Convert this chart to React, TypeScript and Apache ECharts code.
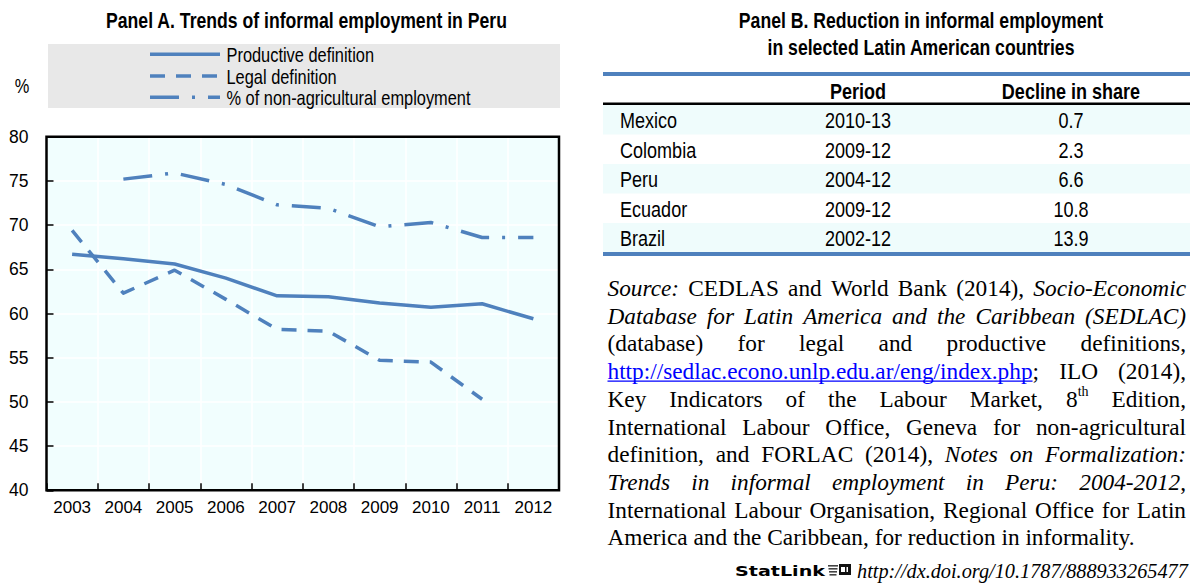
import React, { useEffect, useRef } from 'react';
import * as echarts from 'echarts';

// ---------- Data ----------
const years = ['2003', '2004', '2005', '2006', '2007', '2008', '2009', '2010', '2011', '2012'];
const productive = [66.7, 66.2, 65.6, 64.0, 62.0, 61.9, 61.2, 60.7, 61.1, 59.4];
const legal = [69.4, 62.3, 64.9, 61.6, 58.2, 58.0, 54.7, 54.5, 50.3, null];
const nonAgri = [null, 75.2, 75.9, 74.6, 72.3, 71.9, 69.8, 70.3, 68.6, 68.6];
const seriesNames = ['Productive definition', 'Legal definition', '% of non-agricultural employment'];
const yMin = 40;
const yMax = 80;
const yStep = 5;

const countries = ['Mexico', 'Colombia', 'Peru', 'Ecuador', 'Brazil'];
const periods = ['2010-13', '2009-12', '2004-12', '2009-12', '2002-12'];
const declines = ['0.7', '2.3', '6.6', '10.8', '13.9'];
const tableHeaders = ['Period', 'Decline in share'];

const titleA = 'Panel A. Trends of informal employment in Peru';
const titleB = ['Panel B. Reduction in informal employment', 'in selected Latin American countries'];
const unitLabel = '%';

const sourceLines = [
  '*Source:* CEDLAS and World Bank (2014), *Socio-Economic*',
  '*Database for Latin America and the Caribbean (SEDLAC)*',
  '(database) for legal and productive definitions,',
  '_http://sedlac.econo.unlp.edu.ar/eng/index.php_; ILO (2014),',
  'Key Indicators of the Labour Market, 8^th^ Edition,',
  'International Labour Office, Geneva for non-agricultural',
  'definition, and FORLAC (2014), *Notes on Formalization:*',
  '*Trends in informal employment in Peru: 2004-2012*,',
  'International Labour Organisation, Regional Office for Latin',
  'America and the Caribbean, for reduction in informality.',
];
const statLinkLabel = 'StatLink';
const statLinkUrl = 'http://dx.doi.org/10.1787/888933265477';

// ---------- Styles ----------
const BLUE = '#4f81bd';
const SANS = '"Liberation Sans", Arial, sans-serif';
const SERIF = '"Liberation Serif", "Times New Roman", serif';
const NARROW_SCALE = 0.82;
const LEGAL_DASH = [15, 11];
const DASHDOT = [29, 13, 3, 13];
const dashes: (number[] | null)[] = [null, LEGAL_DASH, DASHDOT];

let measureCtx: CanvasRenderingContext2D | null = null;
function measure(text: string, font: string): number {
  if (!measureCtx) measureCtx = document.createElement('canvas').getContext('2d');
  measureCtx!.font = font;
  return measureCtx!.measureText(text).width;
}

// narrow (condensed) text, drawn as a horizontally scaled sans font
function nText(x: number, y: number, text: string, size: number, align: string, bold = false): any {
  return {
    type: 'text',
    silent: true,
    x,
    y,
    scaleX: NARROW_SCALE,
    style: {
      text,
      font: `${bold ? 'bold ' : ''}${size}px ${SANS}`,
      fill: '#000',
      textAlign: align,
      textVerticalAlign: 'middle',
    },
  };
}

type Piece = { t: string; s: string };
function parseLine(src: string): Piece[][] {
  const pieces: Piece[] = [];
  let cur = '';
  let style = 'n';
  for (const ch of src) {
    if (ch === '*' || ch === '_' || ch === '^') {
      if (cur) pieces.push({ t: cur, s: style });
      cur = '';
      const m = ch === '*' ? 'i' : ch === '_' ? 'u' : 's';
      style = style === m ? 'n' : m;
    } else cur += ch;
  }
  if (cur) pieces.push({ t: cur, s: style });
  const tokens: Piece[][] = [[]];
  for (const p of pieces) {
    p.t.split(' ').forEach((part, k) => {
      if (k > 0) tokens.push([]);
      if (part) tokens[tokens.length - 1].push({ t: part, s: p.s });
    });
  }
  return tokens.filter((t) => t.length > 0);
}

const SRC_SIZE = 23.3;
function pieceFont(s: string) {
  if (s === 'i') return `italic ${SRC_SIZE}px ${SERIF}`;
  if (s === 's') return `${Math.round(SRC_SIZE * 0.6)}px ${SERIF}`;
  return `${SRC_SIZE}px ${SERIF}`;
}

function buildSource(): any[] {
  const els: any[] = [];
  const left = 607.5;
  const right = 1186;
  const W = right - left;
  const top = 288;
  const lh = 27.7;
  const spaceW = measure(' ', pieceFont('n'));
  sourceLines.forEach((line, i) => {
    const tokens = parseLine(line);
    const widths = tokens.map((tk) => tk.reduce((a, p) => a + measure(p.t, pieceFont(p.s)), 0));
    const sum = widths.reduce((a, b) => a + b, 0);
    const last = i === sourceLines.length - 1;
    const gap = last || tokens.length < 2 ? spaceW : (W - sum) / (tokens.length - 1);
    const y = top + i * lh;
    let x = left;
    tokens.forEach((tk, ti) => {
      let px = x;
      tk.forEach((p) => {
        const w = measure(p.t, pieceFont(p.s));
        els.push({
          type: 'text',
          x: px,
          y: p.s === 's' ? y - 7 : y,
          silent: true,
          style: {
            text: p.t,
            font: pieceFont(p.s),
            fill: p.s === 'u' ? '#0000ff' : '#000',
            textAlign: 'left',
            textVerticalAlign: 'middle',
          },
        });
        if (p.s === 'u') {
          els.push({
            type: 'line',
            silent: true,
            shape: { x1: px, y1: y + 10, x2: px + w, y2: y + 10 },
            style: { stroke: '#0000ff', lineWidth: 1.2 },
          });
        }
        px += w;
      });
      x += widths[ti] + gap;
    });
  });
  return els;
}

function buildLegend(): any[] {
  const els: any[] = [];
  els.push({
    type: 'rect',
    silent: true,
    shape: { x: 48, y: 44, width: 512, height: 64 },
    style: { fill: '#e8e8e8' },
    z: 0,
  });
  const rows = [54.3, 76, 97.3];
  seriesNames.forEach((name, i) => {
    els.push({
      type: 'line',
      silent: true,
      shape: { x1: 150, y1: rows[i], x2: 220, y2: rows[i] },
      style: { stroke: BLUE, lineWidth: 3.5, lineDash: dashes[i] || undefined },
      z: 1,
    });
    const t = nText(226.5, rows[i] + 1, name, 20, 'left');
    t.z = 1;
    els.push(t);
  });
  return els;
}

function buildTable(): any[] {
  const els: any[] = [];
  const x0 = 603;
  const x1 = 1190;
  const rowTop = 105;
  const rowH = 29.5;
  countries.forEach((c, i) => {
    if (i % 2 === 0) {
      els.push({
        type: 'rect',
        silent: true,
        shape: { x: x0, y: rowTop + i * rowH, width: x1 - x0, height: rowH },
        style: { fill: '#effcfc' },
      });
    }
    const cy = rowTop + i * rowH + rowH / 2 + 1;
    els.push(nText(620, cy, c, 22, 'left'));
    els.push(nText(858, cy, periods[i], 22, 'center'));
    els.push(nText(1071, cy, declines[i], 22, 'center'));
  });
  els.push({ type: 'line', silent: true, shape: { x1: x0, y1: 74, x2: x1, y2: 74 }, style: { stroke: BLUE, lineWidth: 4 } });
  els.push({ type: 'line', silent: true, shape: { x1: x0, y1: 103.7, x2: x1, y2: 103.7 }, style: { stroke: '#000', lineWidth: 2.5 } });
  els.push({ type: 'line', silent: true, shape: { x1: x0, y1: 254, x2: x1, y2: 254 }, style: { stroke: BLUE, lineWidth: 4 } });
  els.push(nText(858, 91, tableHeaders[0], 22, 'center', true));
  els.push(nText(1071, 91, tableHeaders[1], 22, 'center', true));
  return els;
}

function buildTitles(): any[] {
  return [
    nText(306.5, 20, titleA, 21.5, 'center', true),
    nText(921, 20, titleB[0], 21.5, 'center', true),
    nText(921, 47, titleB[1], 21.5, 'center', true),
    nText(22, 86, unitLabel, 20, 'center'),
  ];
}

function buildStatLink(): any[] {
  const els: any[] = [];
  const y = 571;
  const lf = `bold 14px "DejaVu Sans", sans-serif`;
  const lw = measure(statLinkLabel, lf);
  els.push({
    type: 'text', silent: true, x: 735, y, scaleX: 90 / lw,
    style: { text: statLinkLabel, font: lf, fill: '#000', textAlign: 'left', textVerticalAlign: 'middle' },
  });
  for (let k = 0; k < 4; k++) {
    els.push({ type: 'rect', silent: true, shape: { x: 828 + k * 0.5, y: 565 + k * 3, width: 10 - k, height: 1.6 }, style: { fill: '#444' } });
  }
  els.push({ type: 'rect', silent: true, shape: { x: 839, y: 564, width: 12, height: 11 }, style: { fill: '#111' } });
  els.push({ type: 'rect', silent: true, shape: { x: 841, y: 567, width: 4, height: 5 }, style: { fill: '#fff' } });
  els.push({ type: 'rect', silent: true, shape: { x: 846.5, y: 567, width: 1.5, height: 5 }, style: { fill: '#fff' } });
  const uf = `italic 20px ${SERIF}`;
  const uw = measure(statLinkUrl, uf);
  els.push({
    type: 'text', silent: true, x: 857, y, scaleX: 331 / uw,
    style: { text: statLinkUrl, font: uf, fill: '#000', textAlign: 'left', textVerticalAlign: 'middle' },
  });
  return els;
}

const PLOT = { left: 46.5, right: 559, top: 136.7, bottom: 490.3 };

export default function App() {
  const ref = useRef<HTMLDivElement>(null);
  useEffect(() => {
    if (!ref.current) return;
    const chart = echarts.init(ref.current, null, { renderer: 'svg' });
    const seriesData = [productive, legal, nonAgri];
    const option: any = {
      animation: false,
      backgroundColor: '#fff',
      grid: {
        left: PLOT.left,
        right: 1190 - PLOT.right,
        top: PLOT.top,
        bottom: 587 - PLOT.bottom,
        show: true,
        backgroundColor: '#f1fefe',
        borderWidth: 0,
      },
      xAxis: {
        type: 'category',
        data: years,
        boundaryGap: true,
        axisLine: { show: false },
        axisTick: { show: true, inside: true, length: 7, lineStyle: { color: '#000', width: 1.5 } },
        axisLabel: { color: '#000', fontFamily: SANS, fontSize: 17, margin: 9, interval: 0 },
        splitLine: { show: true, lineStyle: { color: '#ffffff', width: 1.5 } },
      },
      yAxis: {
        type: 'value',
        min: yMin,
        max: yMax,
        interval: yStep,
        axisLine: { show: false },
        axisTick: { show: true, inside: true, length: 7, lineStyle: { color: '#000', width: 1.5 } },
        axisLabel: { color: '#000', fontFamily: SANS, fontSize: 17.5, margin: 18 },
        splitLine: { show: true, lineStyle: { color: '#ffffff', width: 1.5 } },
      },
      series: seriesNames.map((name, i) => ({
        name,
        type: 'line',
        data: seriesData[i],
        symbol: 'none',
        connectNulls: false,
        lineStyle: { color: BLUE, width: 3.5, type: dashes[i] || 'solid', cap: 'butt', join: 'round' },
        itemStyle: { color: BLUE },
        z: 3,
      })),
      graphic: [
        {
          type: 'rect',
          silent: true,
          z: 10,
          shape: { x: PLOT.left, y: PLOT.top, width: PLOT.right - PLOT.left, height: PLOT.bottom - PLOT.top },
          style: { fill: 'none', stroke: '#000', lineWidth: 2.5 },
        },
        ...buildLegend(),
        ...buildTitles(),
        ...buildTable(),
        ...buildSource(),
        ...buildStatLink(),
      ],
    };
    chart.setOption(option);
    return () => chart.dispose();
  }, []);
  return (
    <div
      ref={ref}
      style={{ position: 'absolute', left: 0, top: 0, width: 1190, height: 587, background: '#fff' }}
    />
  );
}
